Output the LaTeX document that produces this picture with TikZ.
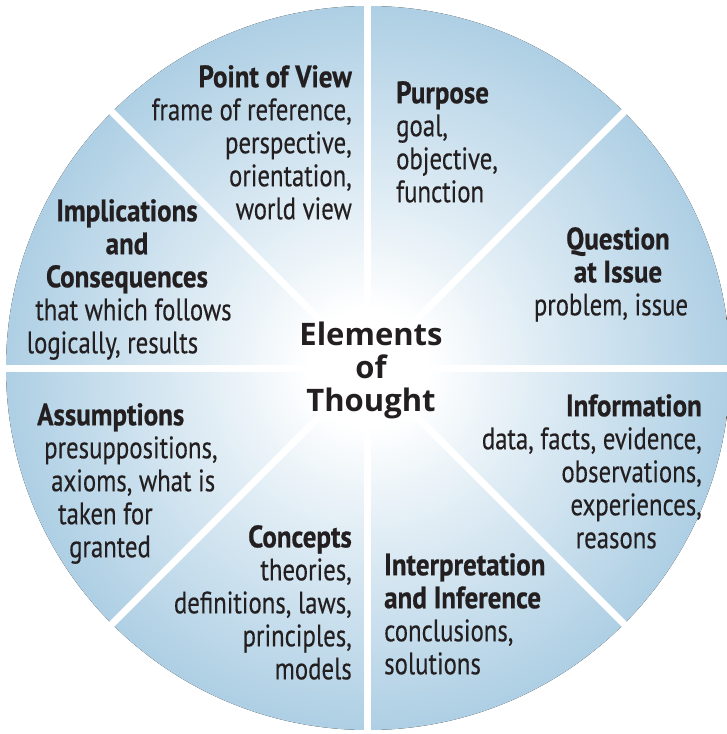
\documentclass[tikz,border=0pt]{standalone}
\usepackage{fontspec}
\setmainfont{PT Sans}[FakeStretch=0.8,FakeBold=0.3]
\newfontfamily\headfont{PT Sans}[FakeStretch=0.87,FakeBold=0.6]
\newfontfamily\hubfont{Open Sans}
\newcommand\hd[1]{{\headfont\bfseries #1}}
\definecolor{rimblue}{RGB}{174,207,228}
\definecolor{ink}{RGB}{35,31,32}
\pgfdeclareradialshading{thought}{\pgfpointorigin}{color(0bp)=(white); color(4bp)=(white); color(12bp)=(rimblue!40); color(25bp)=(rimblue); color(50bp)=(rimblue)}

\begin{document}
\begin{tikzpicture}[x=1pt,y=1pt,
    txt/.style={inner sep=0pt,text=ink,font=\fontsize{31}{33}\selectfont},
    hub/.style={inner sep=0pt,text=ink,align=center,font=\hubfont\bfseries\fontsize{31}{33}\selectfont}]
    \useasboundingbox (-368,-366) rectangle (358,368);
    \fill[shading=thought] (0,0) circle[radius=362];
    \coordinate (c) at (0,0);
    \foreach \a in {0,45,...,315} {\draw[white,line width=7pt] (c) -- (\a:372);}
    %sectors, clockwise from the top
    \node[txt,anchor=north west,align=left] (purpose) at (28,287)
      {\hd{Purpose}\\goal,\\objective,\\function};
    \node[txt,anchor=north,align=center] (question) at (250,141)
      {\hd{Question}\\\hd{at Issue}\\problem, issue\hspace*{14pt}};
    \node[txt,anchor=north east,align=right] (info) at (334,-26)
      {\hd{Information}\\data, facts, evidence,\hspace*{10pt}\\observations,\hspace*{24pt}\\experiences,\hspace*{33pt}\\reasons\hspace*{45pt}};
    \node[txt,anchor=north west,align=left] (inference) at (16,-185)
      {\hd{Interpretation}\\\hd{and Inference}\\conclusions,\\solutions};
    \node[txt,anchor=north east,align=right] (concepts) at (-16,-157)
      {\hd{Concepts}\\theories,\\definitions, laws,\\principles,\\models};
    \node[txt,anchor=north west,align=left] (assume) at (-331,-35)
      {\hd{Assumptions}\\\hspace*{7pt}presuppositions,\\\hspace*{14pt}axioms, what is\\\hspace*{21pt}taken for\\\hspace*{32pt}granted};
    \node[txt,anchor=north,align=center] (implic) at (-241,169)
      {\hd{Implications}\\\hd{and}\hspace*{12pt}\\\hd{Consequences}\\\hspace*{13pt}that which follows\\logically, results\hspace*{29pt}};
    \node[txt,anchor=north east,align=right] (view) at (-16,303)
      {\hd{Point of View}\\frame of reference,\\perspective,\\orientation,\\world view};
    \node[hub,anchor=north] (elements) at (3,46) {Elements\\of\\Thought};
\end{tikzpicture}
\end{document}
